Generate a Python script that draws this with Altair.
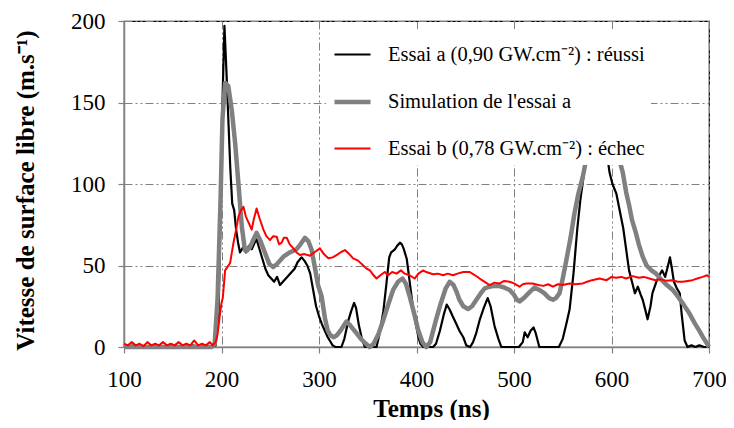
import altair as alt
import pandas as pd

LABEL_A = "Essai a (0,90 GW.cm⁻²) : réussi"
LABEL_S = "Simulation  de l'essai  a"
LABEL_B = "Essai b (0,78 GW.cm⁻²) : échec"

# Essai a (black, measured)
a_t = [100, 110, 120, 130, 140, 150, 160, 170, 180, 190, 194, 197, 199, 201, 203, 205, 207, 209, 211, 213,
       215, 217, 219, 222, 225, 228, 231, 234, 236, 239, 242, 245, 248, 251, 254, 257, 260, 263, 266, 269,
       272, 275, 278, 282, 285, 288, 291, 294, 297, 300, 303, 306, 309, 311, 314, 317, 320, 323, 326, 330,
       333, 336, 338, 341, 344, 347, 350, 355, 359, 362, 366, 369, 372, 374, 376, 378, 380, 383, 385, 387,
       390, 393, 396, 399, 402, 404, 407, 412, 417, 420, 424, 428, 431, 434, 437, 441, 444, 448, 451, 455,
       458, 461, 465, 469, 473, 476, 480, 484, 487, 495, 505, 509, 511, 514, 517, 520, 522, 526, 535, 546,
       550, 554, 557, 561, 565, 568, 571, 575, 580, 585, 590, 595, 598, 601, 605, 608, 612, 615, 618, 621,
       624, 627, 630, 632, 635, 637, 640, 642, 646, 650, 652, 655, 658, 660, 662, 664, 667, 670, 672, 675,
       678, 682, 686, 690, 695, 700]
a_v = [0, 1, 0, 1, 0, 1, 0, 1, 0, 0.5, 1, 20, 80, 150, 197, 170, 140, 110, 88, 84,
       72, 64, 58, 61, 58, 62, 60, 64, 66, 60, 54, 48, 44, 42, 40, 43, 38, 40, 42, 44,
       46, 48, 52, 55, 53, 50, 45, 35, 25, 19, 14, 10, 6, 4, 1, 0, 0, 0, 5, 16,
       22, 27, 24, 13, 5, 0, 0, 0, 0, 8, 22, 38, 55, 58, 59, 60, 62, 64, 63, 60,
       54, 40, 26, 15, 6, 2, 0, 0, 0, 2, 10, 20, 26, 23, 19, 14, 10, 6, 1, 0,
       3, 8, 17, 24, 30, 25, 13, 5, 0, 0, 0, 3, 9, 6, 10, 12, 9, 0, 0, 0,
       5, 15, 23, 45, 73, 90, 103, 125, 145, 150, 140, 120, 107, 100, 94, 85, 73, 60, 47, 40,
       33, 37, 32, 29, 22, 17, 25, 33, 40, 45, 47, 43, 50, 55, 48, 40, 36, 33, 20, 4,
       0, 1, 0, 1, 0, 0]

# Simulation de l'essai a (grey)
s_t = [100, 150, 190, 193, 196, 199, 201, 203.7, 207, 210.6, 214, 217.4, 220.8, 224, 226, 229, 232, 236, 240, 244.7,
       249, 253, 257, 263.5, 270, 277, 281, 285.6, 289, 292.5, 296, 299, 302.7, 306, 309, 312, 315, 318, 322, 328,
       331, 335, 338.6, 343, 348, 352, 356, 361, 366, 371, 376, 381, 385.6, 389, 393, 397, 401.7, 406, 410, 414,
       420, 425, 430, 434, 438, 441, 444, 448, 452.8, 457, 461.4, 466, 470, 475, 480, 485, 490, 495.5, 500, 503,
       505.7, 510, 515, 521, 526, 531, 536, 540, 543, 546.7, 550, 553.6, 558, 562, 566, 570.6, 575, 580, 586, 592,
       598, 604, 608, 611.6, 615, 618.4, 621, 625, 628, 632, 636, 641, 645.7, 650, 655, 662.8, 668, 674, 679.8, 685,
       690, 693.5, 697, 700]
s_v = [0, 0, 0, 2, 30, 90, 140, 162, 160, 145, 125, 100, 74, 59.5, 59, 61, 65, 70, 65, 57.6,
       51, 49, 51, 55.4, 58, 60, 63, 67, 65, 59.5, 48, 38, 31, 18, 10, 7, 6, 7, 10, 15.5,
       14, 11, 8.4, 5, 2, 0, 2, 8, 16.6, 26, 35, 40, 42, 39, 31, 22, 10.4, 3, 0, 3,
       16.6, 27, 36, 40, 38, 34, 29, 25, 23.3, 25, 29, 33, 36, 37, 37.5, 37.4, 36.5, 35, 32, 29,
       28, 30, 33, 36.5, 35, 33, 30, 29, 30, 33, 42, 53, 67, 82, 94, 104.5, 118, 135, 150, 152,
       145, 130, 115, 107, 95, 86, 78, 70, 63, 55.4, 50, 47, 45, 42, 39, 35, 31, 26, 20.7, 15,
       10, 6.3, 3, 0]

# Essai b (red)
b_t = [100, 104, 108, 112, 116, 120, 124, 128, 132, 136, 140, 144, 148, 152, 156, 160, 164, 168, 172, 176,
       180, 184, 188, 191, 194, 196, 198, 200, 201.3, 203.7, 206, 208.8, 212.3, 215, 217.4, 220, 222.5, 225, 228, 231,
       233, 236, 239, 243, 246, 249.8, 253, 256.6, 259, 261.7, 264, 266.9, 270, 273.7, 277, 280.5, 285, 290.7, 295, 301,
       305, 309.6, 314, 318, 322, 326.6, 331, 335, 340, 345.4, 349, 352.2, 356, 359, 363, 367.5, 371, 375, 379.5, 384,
       388, 393, 398, 402, 406.8, 410, 417, 422, 427.3, 432, 437.5, 442, 448, 454.6, 460, 464.8, 470, 475, 480, 485.3,
       490, 495.5, 500, 505.7, 509, 512.6, 519, 525, 530, 535, 540, 545, 550, 557, 563, 570.6, 575, 580, 587.7, 595,
       600, 604.7, 610, 615, 621.8, 628, 633, 638.9, 645, 650, 656, 662, 668, 673, 678, 683, 688, 693.5, 698, 700]
b_v = [2, 1, 3, 1, 2, 0.5, 3, 1, 2, 1, 3, 1, 2, 1, 3, 1, 2, 1, 4, 1,
       2, 1, 3, 1, 3, 8, 18, 27, 30, 47, 49, 51.5, 64, 72, 80, 84, 86, 80, 76, 72,
       78, 85, 79, 72, 68, 65.6, 68, 67.7, 63, 64, 67, 67, 63, 60.5, 58, 56.4, 57, 56, 58, 60.5,
       57, 54.4, 55, 56.4, 58, 59.5, 57, 54.4, 53, 50, 48, 47, 44, 42, 44, 46, 44, 46, 45, 47,
       45, 44, 42, 45, 47, 46, 44.6, 45, 44, 45, 44, 45, 46, 46, 44, 42, 40, 38, 39.5, 39,
       40.5, 40, 39, 37, 38.5, 39, 39, 38, 37.5, 38.5, 37, 38.5, 38, 39, 38.5, 39, 40, 41, 42, 41,
       43, 42.5, 43, 42, 43.5, 42.5, 43, 42, 41, 41.5, 40.7, 41, 40, 40, 40.5, 41, 42, 43, 44, 43]

x_ticks = [100, 200, 300, 400, 500, 600, 700]
y_ticks = [0, 50, 100, 150, 200]

df = pd.concat([
    pd.DataFrame({"t": a_t, "v": a_v, "serie": LABEL_A}),
    pd.DataFrame({"t": s_t, "v": s_v, "serie": LABEL_S}),
    pd.DataFrame({"t": b_t, "v": b_v, "serie": LABEL_B}),
], ignore_index=True)

domain = [LABEL_A, LABEL_S, LABEL_B]
FONT = "Liberation Serif"

legend_kw = dict(title=None, orient="none", legendX=202, legendY=8,
                 fillColor="white", padding=6, symbolType="stroke",
                 symbolSize=1300, labelFont=FONT, labelFontSize=20.5,
                 labelOffset=15, rowPadding=16.5, labelLimit=500,
                 labelColor="black")

chart = alt.Chart(df).mark_line(strokeJoin="round").encode(
    x=alt.X("t:Q", scale=alt.Scale(domain=[100, 700], nice=False),
            axis=alt.Axis(title="Temps (ns)", values=x_ticks, format="d",
                          tickSize=6, labelPadding=15, labelFlush=False,
                          titleX=307, titleY=69, titleAlign="center",
                          titleBaseline="alphabetic")),
    y=alt.Y("v:Q", scale=alt.Scale(domain=[0, 200], nice=False),
            axis=alt.Axis(title="Vitesse de surface libre (m.s⁻¹)", values=y_ticks, format="d",
                          tickSize=6, labelPadding=13, labelFlush=False,
                          titleX=-91, titleY=169,
                          titleAngle=270, titleAlign="center",
                          titleBaseline="alphabetic")),
    color=alt.Color("serie:N", scale=alt.Scale(domain=domain, range=["#000000", "#808080", "#ff0000"]),
                    legend=alt.Legend(**legend_kw)),
    strokeWidth=alt.StrokeWidth("serie:N",
                                scale=alt.Scale(type="ordinal", domain=domain, range=[2.2, 4.5, 2]),
                                legend=alt.Legend(**legend_kw)),
    order=alt.Order("t:Q"),
).properties(
    width=585, height=326,
    background="white",
    autosize=alt.AutoSizeParams(type="none"),
    padding={"left": 116, "top": 13, "right": 17, "bottom": 73},
).configure_view(
    stroke="black", strokeWidth=1.2
).configure_axis(
    labelFont=FONT, labelFontSize=23, labelColor="black",
    titleFont=FONT, titleFontSize=25, titleFontWeight="bold", titleColor="black",
    titleLimit=600,
    domainColor="#808080", domainWidth=1.5, tickColor="#808080", tickWidth=1.2,
    gridColor="#808080", gridDash=[8, 3, 2, 3, 2, 3], gridWidth=1, gridOpacity=1,
    zindex=1
)

chart.save("out.html", embed_options={"renderer": "svg", "actions": False})
